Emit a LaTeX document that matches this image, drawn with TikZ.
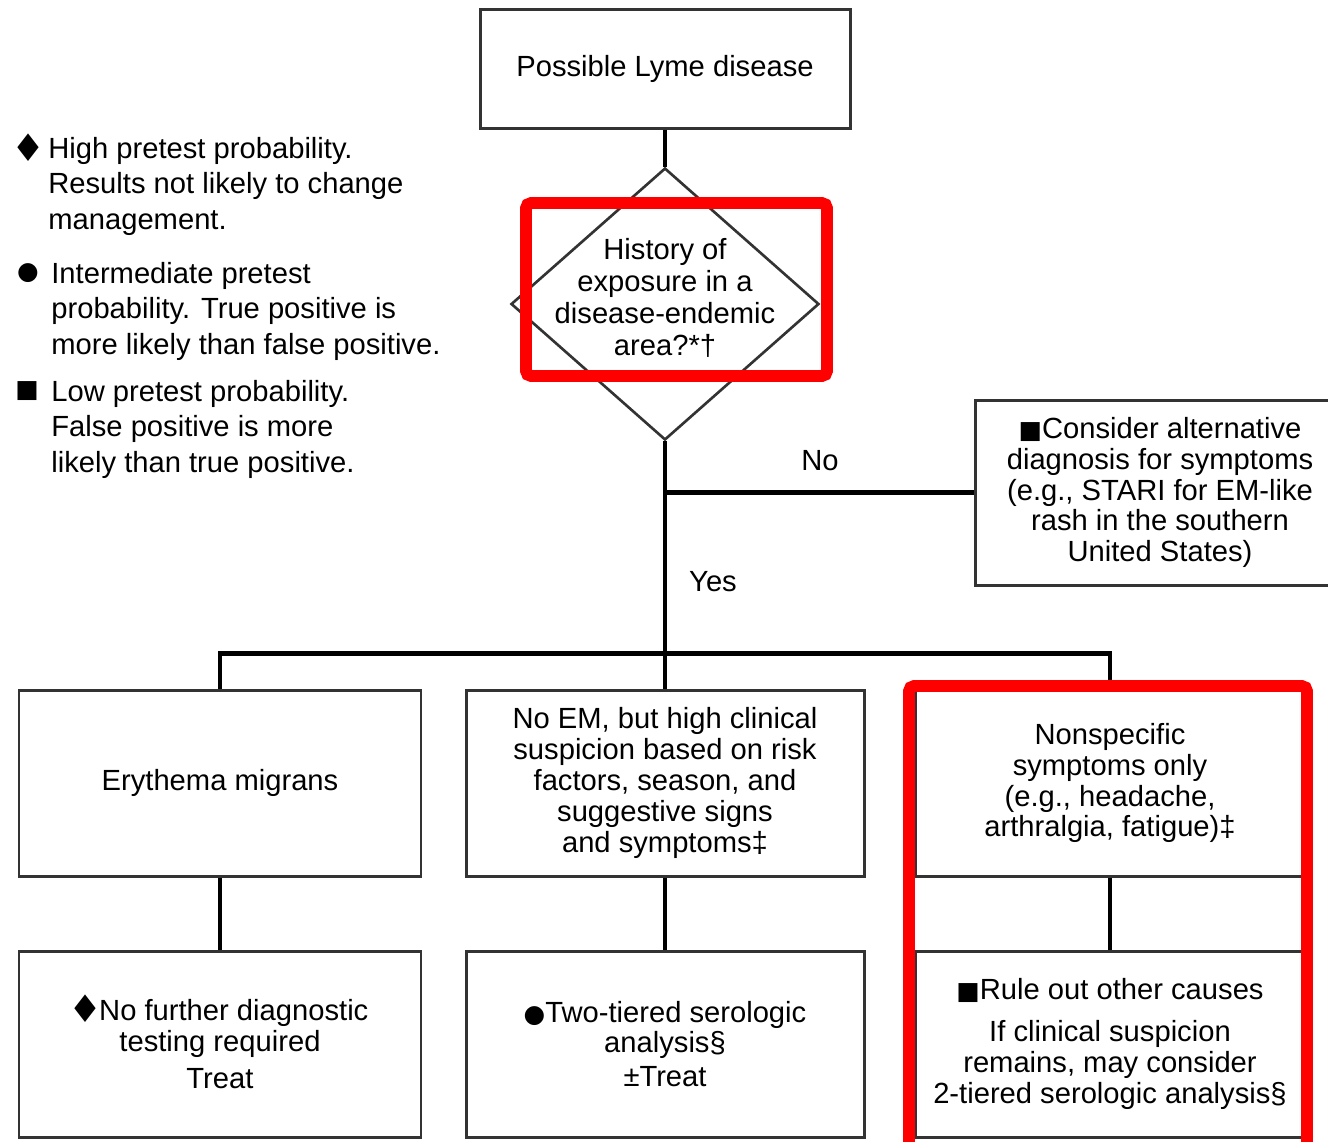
\documentclass[tikz,border=0pt]{standalone}
\usepackage{fontspec}
\setmainfont{Liberation Sans}
\newfontfamily\markfont[Scale=0.85]{DejaVu Sans}
\newfontfamily\suitfont[Scale=1.3]{DejaVu Sans}
\newcommand{\highmark}{{\suitfont ♦}}
\newcommand{\highmarkin}{\kern-0.1em\raisebox{-0.03cm}[0pt][0pt]{\highmark}\kern-0.12em}
\newcommand{\midmark}{{\markfont ●}}
\newcommand{\lowmark}{{\markfont ■}}
\usetikzlibrary{shapes.geometric}
\colorlet{frame}{black!80}
\tikzset{
  box/.style={draw=frame, line width=1.7pt, align=center, inner sep=0pt},
  link/.style={line width=2.4pt},
  highlight/.style={draw=red, line width=6.8pt, rounded corners=3pt},
  legendtext/.style={anchor=north west, align=left, inner sep=0pt, font=\fontsize{16.6}{20.2}\selectfont},
}

\begin{document}
\begin{tikzpicture}[every node/.style={font=\fontsize{16.6}{17.6}\selectfont}]
  \useasboundingbox (0,0) rectangle (26.56,-22.82);
  \clip (0,0) rectangle (26.56,-22.82);
  % legend
  \node (markhigh) at (0.56,-2.96) {\highmark};
  \node[legendtext] (legendhigh) at (0.96,-2.74) {High pretest probability.\\Results not likely to change\\management.};
  \node (markmid) at (0.56,-5.46) {\midmark};
  \node[legendtext] (legendmid) at (1.02,-5.24) {Intermediate pretest\\probability. True positive is\\more likely than false positive.};
  \node (marklow) at (0.54,-7.82) {\lowmark};
  \node[legendtext] (legendlow) at (1.02,-7.6) {Low pretest probability.\\False positive is more\\likely than true positive.};
  % question
  \node[box, minimum width=7.4cm, minimum height=2.38cm] (start) at (13.3,-1.37) {Possible Lyme disease};
  \node[diamond, draw=frame, line width=1.5pt, inner sep=0pt, minimum width=6.16cm, minimum height=5.44cm] (exposure) at (13.3,-6.08) {};
  \node[align=center, font=\fontsize{16.6}{18.2}\selectfont] (exposuretext) at (13.3,-5.96) {History of\\exposure in a\\disease-endemic\\area?*†};
  \node[box, minimum width=7.4cm, minimum height=3.7cm] (alternative) at (23.2,-9.85) {\lowmark Consider alternative\\diagnosis for symptoms\\(e.g., STARI for EM-like\\rash in the southern\\United States)};
  % first row
  \node[box, minimum width=8.04cm, minimum height=3.72cm] (erythema) at (4.4,-15.66) {Erythema migrans};
  \node[box, minimum width=7.96cm, minimum height=3.72cm] (highsuspicion) at (13.3,-15.66) {No EM, but high clinical\\suspicion based on risk\\factors, season, and\\suggestive signs\\and symptoms‡};
  \node[box, minimum width=7.8cm, minimum height=3.72cm] (nonspecific) at (22.2,-15.66) {Nonspecific\\symptoms only\\(e.g., headache,\\arthralgia, fatigue)‡};
  % second row
  \node[box, minimum width=8.04cm, minimum height=3.72cm] (notesting) at (4.4,-20.88) {\highmarkin No further diagnostic\\testing required\\[0.12cm]Treat};
  \node[box, minimum width=7.96cm, minimum height=3.72cm] (serology) at (13.3,-20.88) {\midmark Two-tiered serologic\\analysis§\\[0.06cm]±Treat};
  \node[box, minimum width=7.8cm, minimum height=3.72cm] (ruleout) at (22.2,-20.88) {\lowmark Rule out other causes\\[0.22cm]If clinical suspicion\\remains, may consider\\2-tiered serologic analysis§};
  % connectors
  \draw[link] (start.south) -- (exposure.north);
  \draw[link] (exposure.south) -- (highsuspicion.north);
  \draw[link] (exposure.south |- alternative.west) -- (alternative.west);
  \draw[link] (erythema.north) -- ++(0,0.7) -| (nonspecific.north);
  \draw[link] (erythema) -- (notesting);
  \draw[link] (highsuspicion) -- (serology);
  \draw[link] (nonspecific) -- (ruleout);
  \node (nolabel) at (16.4,-9.22) {No};
  \node (yeslabel) at (14.26,-11.64) {Yes};
  % red marks
  \draw[highlight] (10.52,-4.06) rectangle (16.54,-7.52);
  \draw[highlight] (18.18,-13.72) rectangle (26.14,-23.1);
\end{tikzpicture}
\end{document}
